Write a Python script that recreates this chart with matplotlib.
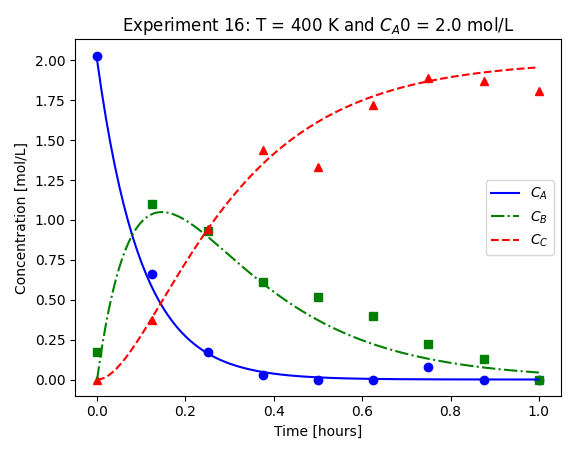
import matplotlib
matplotlib.use('Agg')
import matplotlib.pyplot as plt
import numpy as np

# measured data
t_data = [0.0, 0.125, 0.25, 0.375, 0.5, 0.625, 0.75, 0.875, 1.0]
ca_data = [2.03, 0.66, 0.17, 0.03, 0.0, 0.0, 0.08, 0.0, 0.0]
cb_data = [0.17, 1.10, 0.93, 0.61, 0.52, 0.40, 0.22, 0.13, 0.0]
cc_data = [0.0, 0.37, 0.94, 1.44, 1.33, 1.72, 1.89, 1.87, 1.81]

# fitted model A -> B -> C
ca0 = 2.0
k1 = 10.0
k2 = 4.4

t = np.linspace(0, 1, 200)
ca = ca0 * np.exp(-k1 * t)
cb = ca0 * k1 / (k2 - k1) * (np.exp(-k1 * t) - np.exp(-k2 * t))
cc = ca0 - ca - cb

fig, ax = plt.subplots(figsize=(5.76, 4.54), dpi=100)
ax.plot(t_data, ca_data, 'bo')
ax.plot(t_data, cb_data, 'gs')
ax.plot(t_data, cc_data, 'r^')
ax.plot(t, ca, 'b-', label='$C_A$')
ax.plot(t, cb, 'g-.', label='$C_B$')
ax.plot(t, cc, 'r--', label='$C_C$')
ax.set_xlabel('Time [hours]')
ax.set_ylabel('Concentration [mol/L]')
ax.set_title('Experiment 16: T = 400 K and $C_A0$ = 2.0 mol/L')
ax.set_yticks(np.arange(0, 2.01, 0.25))
ax.yaxis.set_major_formatter(matplotlib.ticker.FormatStrFormatter('%.2f'))
ax.legend(loc='center right')
fig.tight_layout()
fig.savefig('out.png')
